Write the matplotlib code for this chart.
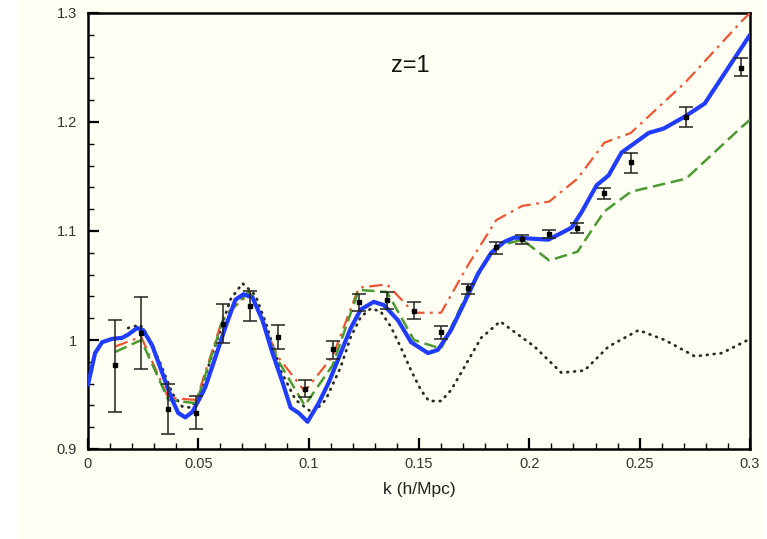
import matplotlib
matplotlib.use("Agg")
import matplotlib.pyplot as plt
from matplotlib.patches import Rectangle
from matplotlib.ticker import MultipleLocator, FuncFormatter

# measured points with error bars
k_data = [0.0123, 0.0241, 0.0364, 0.0491, 0.0614, 0.0736, 0.0859, 0.0982, 0.1109, 0.1227, 0.1355,
          0.1477, 0.1600, 0.1723, 0.1850, 0.1968, 0.2090, 0.2218, 0.2340, 0.2460, 0.2710, 0.2960]
p_data = [0.977, 1.006, 0.937, 0.933, 1.015, 1.031, 1.003, 0.955, 0.992, 1.035, 1.037,
          1.027, 1.007, 1.048, 1.085, 1.093, 1.097, 1.103, 1.135, 1.163, 1.205, 1.250]
err_lo = [0.043, 0.033, 0.023, 0.015, 0.018, 0.014, 0.011, 0.007, 0.009, 0.008, 0.009,
          0.008, 0.006, 0.006, 0.006, 0.005, 0.003, 0.005, 0.006, 0.010, 0.010, 0.008]
err_hi = [0.041, 0.033, 0.023, 0.016, 0.018, 0.014, 0.011, 0.008, 0.007, 0.007, 0.007,
          0.008, 0.006, 0.003, 0.005, 0.003, 0.004, 0.004, 0.004, 0.009, 0.009, 0.009]

# model curves
k_red = k_data + [0.3]
p_red = [0.994, 1.003, 0.947, 0.945, 1.022, 1.043, 0.985, 0.953, 0.985, 1.048, 1.051,
         1.025, 1.025, 1.069, 1.110, 1.123, 1.127, 1.148, 1.181, 1.190, 1.237, 1.292, 1.300]
k_green = k_data + [0.3]
p_green = [0.989, 1.000, 0.945, 0.942, 1.020, 1.046, 0.982, 0.940, 0.977, 1.046, 1.044,
           1.000, 0.992, 1.045, 1.086, 1.092, 1.073, 1.081, 1.118, 1.136, 1.148, 1.195, 1.202]

k_blue = [0.0, 0.0032, 0.0064, 0.0109, 0.0155, 0.0182, 0.0223, 0.025, 0.0291, 0.0336, 0.0382,
          0.0409, 0.0441, 0.0473, 0.0518, 0.0532, 0.0577, 0.0623, 0.0668, 0.0705, 0.0745, 0.0791,
          0.0836, 0.0882, 0.0918, 0.0955, 0.0995, 0.1045, 0.1091, 0.1145, 0.1191, 0.1236, 0.1295,
          0.1341, 0.1405, 0.1464, 0.1541, 0.1586, 0.1645, 0.1705, 0.1768, 0.1827, 0.1886, 0.1932,
          0.2086, 0.2191, 0.2236, 0.2305, 0.2359, 0.2418, 0.2541, 0.2609, 0.2705, 0.2795, 0.3]
p_blue = [0.959, 0.988, 0.998, 1.001, 1.002, 1.005, 1.011, 1.009, 0.995, 0.970, 0.945,
          0.933, 0.929, 0.934, 0.951, 0.957, 0.984, 1.012, 1.037, 1.042, 1.039, 1.018,
          0.988, 0.961, 0.938, 0.933, 0.925, 0.942, 0.961, 0.988, 1.011, 1.028, 1.035,
          1.032, 1.018, 0.998, 0.988, 0.991, 1.009, 1.034, 1.061, 1.080, 1.090, 1.094,
          1.092, 1.103, 1.117, 1.142, 1.151, 1.172, 1.190, 1.194, 1.205, 1.217, 1.280]

k_dot = [0.0182, 0.0236, 0.0268, 0.0327, 0.0382, 0.0427, 0.0464, 0.05, 0.0577, 0.0645, 0.07,
         0.0759, 0.0805, 0.0873, 0.0941, 0.1018, 0.1077, 0.1145, 0.1191, 0.1236, 0.1282, 0.1327,
         0.1373, 0.1418, 0.1464, 0.1509, 0.1545, 0.16, 0.1645, 0.1691, 0.1736, 0.1782, 0.1868,
         0.2023, 0.2145, 0.225, 0.2359, 0.2495, 0.2614, 0.275, 0.2873, 0.3]
p_dot = [1.011, 1.014, 1.005, 0.979, 0.951, 0.939, 0.938, 0.947, 0.995, 1.037, 1.052,
         1.041, 1.016, 0.972, 0.945, 0.933, 0.945, 0.975, 1.003, 1.021, 1.029, 1.026,
         1.012, 0.993, 0.972, 0.954, 0.944, 0.944, 0.954, 0.970, 0.986, 1.002, 1.017,
         0.994, 0.970, 0.972, 0.994, 1.009, 1.000, 0.985, 0.988, 1.001]

cream = '#fffff3'
plt.rcParams['font.family'] = ['Liberation Sans', 'DejaVu Sans']

fig = plt.figure(figsize=(7.67, 5.39), dpi=100, facecolor='white')
bg = Rectangle((17 / 767, 0), 745 / 767, 1, transform=fig.transFigure,
               facecolor=cream, edgecolor='none', zorder=-10)
fig.add_artist(bg)
ax = fig.add_axes([88 / 767, 1 - 449 / 539, 662 / 767, 436 / 539])
ax.set_facecolor(cream)

ax.plot(k_dot, p_dot, color='#2a2a2a', linestyle=(0, (0.3, 2.2)), linewidth=2.0,
        dash_capstyle='round', zorder=2)
ax.plot(k_red, p_red, color='#ee5533', linestyle=(0, (6, 2.5, 1.2, 2.5)), linewidth=1.6, zorder=3)
ax.plot(k_green, p_green, color='#4a9a30', linestyle=(0, (5, 2.3)), linewidth=1.8, zorder=3)
ax.plot(k_blue, p_blue, color='#1f3cff', linewidth=3.0, solid_joinstyle='round',
        solid_capstyle='round', zorder=4)
ax.errorbar(k_data, p_data, yerr=[err_lo, err_hi], fmt='s', color='black', markersize=2.8,
            ecolor='#222222', elinewidth=1.1, capsize=5, capthick=1.1, zorder=5)

ax.set_xlim(0, 0.3)
ax.set_ylim(0.9, 1.3)
ax.xaxis.set_major_locator(MultipleLocator(0.05))
ax.xaxis.set_minor_locator(MultipleLocator(0.01))
ax.yaxis.set_major_locator(MultipleLocator(0.1))
ax.yaxis.set_minor_locator(MultipleLocator(0.02))
fmt = FuncFormatter(lambda v, pos: '%g' % round(v, 3))
ax.xaxis.set_major_formatter(fmt)
ax.yaxis.set_major_formatter(fmt)
ax.tick_params(which='major', direction='in', length=8, width=1.6, labelsize=10.5,
               labelcolor='#333333', top=False, right=False)
ax.tick_params(which='minor', direction='in', length=4.5, width=1.0, top=False, right=False)
ax.tick_params(axis='y', pad=8)
ax.tick_params(axis='x', pad=6)
for s in ax.spines.values():
    s.set_linewidth(1.8)

ax.set_xlabel('k (h/Mpc)', fontsize=12.5, color='#222222', labelpad=8)
ax.text(0.146, 1.251, 'z=1', fontsize=17, ha='center', va='center', color='#111111')

fig.savefig('out.png', dpi=100, facecolor=fig.get_facecolor())
